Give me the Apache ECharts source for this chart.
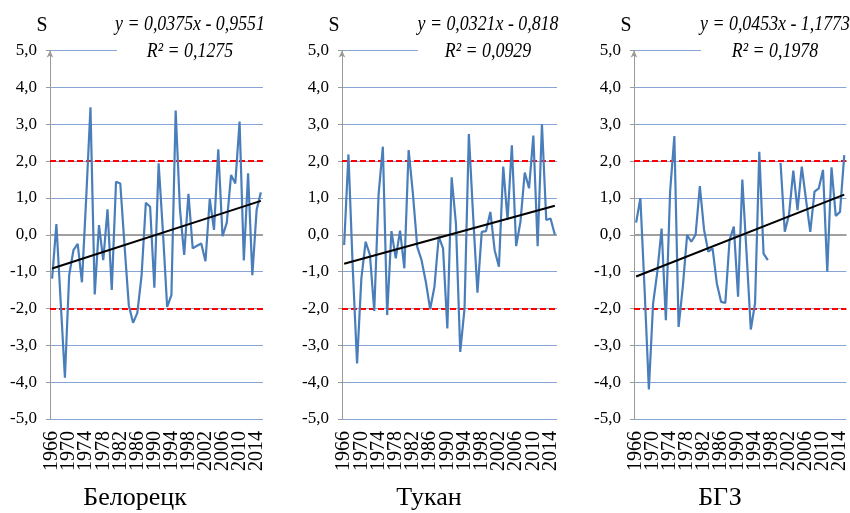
<!DOCTYPE html>
<html>
<head>
<meta charset="utf-8">
<script src="https://cdn.jsdelivr.net/npm/echarts@6/dist/echarts.min.js"></script>
<style>
html,body{margin:0;padding:0;background:#fff;}
#c{width:850px;height:513px;}
</style>
</head>
<body>
<div id="c"></div>
<script>
const years = [];
for (let y = 1966; y <= 2015; y++) years.push(String(y));

const beloretsk = [-1.19, 0.29, -1.8, -3.88, -1.1, -0.42, -0.25, -1.29, 1.0, 3.46,
  -1.62, 0.26, -0.69, 0.69, -1.5, 1.44, 1.39, -0.3, -1.91, -2.39,
  -2.12, -1.1, 0.87, 0.76, -1.44, 1.94, 0.1, -1.96, -1.64, 3.37,
  0.7, -0.55, 1.11, -0.37, -0.3, -0.24, -0.72, 0.97, 0.13, 2.32,
  -0.04, 0.33, 1.62, 1.39, 3.07, -0.7, 1.67, -1.1, 0.67, 1.15];

const tukan = [-0.28, 2.18, -0.9, -3.49, -1.19, -0.19, -0.55, -2.07, 1.08, 2.39,
  -2.18, 0.1, -0.64, 0.11, -0.91, 2.3, 1.1, -0.33, -0.69, -1.28,
  -2.02, -1.41, -0.05, -0.37, -2.54, 1.56, 0.3, -3.18, -2.0, 2.73,
  0.5, -1.57, 0.08, 0.1, 0.62, -0.42, -0.87, 1.85, 0.4, 2.43,
  -0.31, 0.35, 1.69, 1.26, 2.69, -0.31, 3.0, 0.4, 0.44, 0.0];

const bgz = [0.33, 0.99, -1.5, -4.2, -1.86, -1.0, 0.17, -2.32, 1.17, 2.68,
  -2.5, -1.4, -0.01, -0.19, 0.0, 1.32, 0.13, -0.46, -0.37, -1.32,
  -1.82, -1.85, -0.14, 0.22, -1.68, 1.5, -0.5, -2.57, -1.86, 2.25,
  -0.51, -0.69, null, null, 1.95, 0.08, 0.55, 1.74, 0.67, 1.85,
  0.95, 0.08, 1.17, 1.26, 1.76, -1.0, 1.83, 0.51, 0.62, 2.16];

const seriesData = [beloretsk, tukan, bgz];
const slopes = [0.0375, 0.0321, 0.0453];
const intercepts = [-0.9551, -0.818, -1.1773];
const eqLabels = ['y = 0,0375x - 0,9551', 'y = 0,0321x - 0,818', 'y = 0,0453x - 1,1773'];
const r2Labels = ['R² = 0,1275', 'R² = 0,0929', 'R² = 0,1978'];
const stationNames = ['Белорецк', 'Тукан', 'БГЗ'];
const thresholds = [2, -2];

const FONT = 'Liberation Serif';
const grids = [
  {left: 50, top: 50.5, width: 213, height: 368.5},
  {left: 342, top: 50.5, width: 215, height: 368.5},
  {left: 634, top: 50.5, width: 213, height: 368.5}
];
const eqCenters = [190, 488, 775];
const nameCenters = [135, 429, 720];
const whiteBoxes = [[117, 150], [418, 145], [701, 150]];

const xAxes = [], yAxes = [], series = [], graphics = [];
grids.forEach((g, i) => {
  xAxes.push({
    type: 'category', gridIndex: i, data: years, boundaryGap: true,
    position: 'bottom',
    axisLine: {show: false}, axisTick: {show: false}, splitLine: {show: false},
    axisLabel: {rotate: 90, interval: 0, hideOverlap: false,
      formatter: (v, idx) => (idx % 4 === 0 ? v : ''),
      fontSize: 20, fontFamily: FONT, color: '#000', margin: 12}
  });
  yAxes.push({
    type: 'value', gridIndex: i, min: -5, max: 5, interval: 1,
    axisLine: {show: true, onZero: false, lineStyle: {color: '#9a9a9a', width: 1},
      symbol: ['none', 'arrow'], symbolSize: [5, 7]},
    axisTick: {show: true, length: 4, lineStyle: {color: '#9a9a9a'}},
    axisLabel: {fontSize: 17, fontFamily: FONT, color: '#000', margin: 13,
      formatter: v => v.toFixed(1).replace('.', ',')},
    splitLine: {show: true, lineStyle: {color: '#86a5d4', width: 1}}
  });
  series.push({
    type: 'line', xAxisIndex: i, yAxisIndex: i, data: seriesData[i],
    symbol: 'none', lineStyle: {color: '#4a7ebb', width: 2.2}, z: 5,
    markLine: {
      silent: true, symbol: 'none', label: {show: false}, animation: false,
      data: [
        {yAxis: 0, lineStyle: {color: '#a0a0a0', width: 2, type: 'solid'}},
        ...thresholds.map(t => ({yAxis: t, lineStyle: {color: '#ff0000', width: 2, type: [6, 3]}}))
      ]
    }
  });
  const n = years.length;
  series.push({
    type: 'line', xAxisIndex: i, yAxisIndex: i,
    data: [[years[0], slopes[i] * 1 + intercepts[i]], [years[n - 1], slopes[i] * n + intercepts[i]]],
    symbol: 'none', lineStyle: {color: '#000', width: 2}, z: 6
  });
  graphics.push({
    type: 'rect', z: 50, shape: {x: whiteBoxes[i][0], y: 40, width: whiteBoxes[i][1], height: 22},
    style: {fill: '#fff'}
  });
  graphics.push({
    type: 'text', z: 60, x: eqCenters[i], y: 24, scaleX: 0.85,
    style: {text: eqLabels[i], x: 0, y: 0, font: 'italic 21px ' + FONT, fill: '#000',
      textAlign: 'center', textVerticalAlign: 'middle'}
  });
  graphics.push({
    type: 'text', z: 60, x: eqCenters[i], y: 51, scaleX: 0.85,
    style: {text: r2Labels[i], x: 0, y: 0, font: 'italic 21px ' + FONT, fill: '#000',
      textAlign: 'center', textVerticalAlign: 'middle'}
  });
  graphics.push({
    type: 'text', z: 60, x: g.left - 8, y: 25, scaleX: 0.9,
    style: {text: 'S', x: 0, y: 0, font: '22px ' + FONT, fill: '#000',
      textAlign: 'center', textVerticalAlign: 'middle'}
  });
  graphics.push({
    type: 'text', z: 60, x: nameCenters[i], y: 498,
    style: {text: stationNames[i], x: 0, y: 0, font: '26px ' + FONT, fill: '#000',
      textAlign: 'center', textVerticalAlign: 'middle'}
  });
});

const chart = echarts.init(document.getElementById('c'), null, {renderer: 'canvas'});
chart.setOption({
  animation: false,
  backgroundColor: '#fff',
  grid: grids,
  xAxis: xAxes,
  yAxis: yAxes,
  series: series,
  graphic: graphics
});
</script>
</body>
</html>
